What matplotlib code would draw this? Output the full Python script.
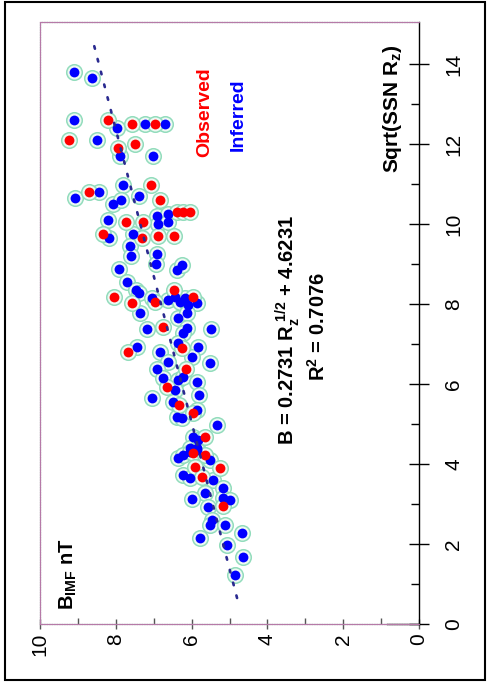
import matplotlib
matplotlib.use("Agg")
import matplotlib.pyplot as plt
import numpy as np
from matplotlib.patches import Rectangle
from matplotlib.lines import Line2D

plt.rcParams["font.family"] = ["Liberation Sans", "DejaVu Sans"]
plt.rcParams["mathtext.default"] = "regular"

# Observed monthly values: sqrt(sunspot number) and IMF field strength (nT)
obs_sqrt = [12.1, 12.6, 12.5, 12.5, 11.9, 12.0,
            10.8, 10.98, 10.6, 10.05, 10.05, 10.3, 10.3, 10.3,
            9.75, 9.65, 9.7, 9.7, 8.18, 8.03, 8.05, 8.35, 8.18,
            7.43, 6.8, 6.9, 6.38, 5.93, 5.48, 5.28, 4.68,
            4.28, 4.23, 3.93, 3.9, 3.68, 2.95]
obs_B = [9.23, 8.2, 7.57, 6.97, 7.94, 7.49,
         8.7, 7.07, 6.83, 7.73, 7.28, 6.39, 6.23, 6.04,
         8.34, 7.31, 6.89, 6.46, 8.05, 7.57, 6.97, 6.46, 5.96,
         6.75, 7.68, 6.25, 6.15, 6.65, 6.33, 5.96, 5.65,
         5.96, 5.65, 5.91, 5.25, 5.73, 5.17]

# Inferred values
inf_sqrt = [13.8, 13.65, 12.6, 12.1, 12.4, 12.5, 12.5, 11.7, 11.7,
            10.65, 10.8, 10.98, 10.7, 10.5, 10.6, 10.1, 10.2, 10.0, 10.25, 10.05,
            9.65, 9.75, 9.45, 9.2, 9.25, 9.0, 8.88, 8.85, 8.98,
            8.55, 8.35, 8.28, 8.15, 8.1, 8.18, 8.05, 8.15, 7.97, 8.03,
            7.78, 7.65, 7.78, 7.38, 7.4, 7.28, 7.38,
            6.93, 6.8, 7.03, 6.93, 6.68, 6.53, 6.55, 6.38,
            6.15, 6.1, 6.18, 6.05, 5.85, 5.73, 5.65, 5.55,
            5.18, 5.15, 5.35, 4.98, 4.68, 4.6, 4.4, 4.4,
            4.15, 4.23, 4.3, 4.35, 4.1, 3.73, 3.65, 3.6, 3.4,
            3.28, 3.13, 3.15, 3.1, 2.93, 2.6, 2.48, 2.48, 2.15,
            2.28, 1.98, 1.68, 1.23]
inf_B = [9.1, 8.63, 9.1, 8.5, 7.97, 7.23, 6.7, 7.89, 7.02,
         9.08, 8.44, 7.81, 7.4, 8.07, 7.86, 8.2, 6.91, 6.89, 6.62, 6.62,
         8.18, 7.55, 7.63, 7.6, 6.91, 6.94, 7.92, 6.39, 6.25,
         7.7, 7.47, 7.39, 7.04, 6.62, 6.44, 6.3, 6.17, 6.1, 5.86,
         7.36, 6.36, 6.12, 7.18, 6.12, 6.23, 5.49,
         7.44, 6.83, 6.36, 5.83, 5.99, 5.51, 6.62, 6.91,
         6.75, 6.36, 6.23, 5.86, 6.44, 5.8, 7.04, 6.49,
         6.39, 6.25, 5.86, 5.33, 5.96, 5.83, 6.04, 5.86,
         6.36, 6.23, 6.04, 5.86, 5.51, 6.23, 6.04, 5.44, 5.17,
         5.65, 5.99, 5.17, 4.99, 5.57, 5.46, 5.51, 5.12, 5.78,
         4.67, 5.07, 4.64, 4.85]

# Least-squares fit B = slope * sqrt(Rz) + intercept
fit_slope = 0.2731
fit_intercept = 4.6231
fit_r2 = 0.7076
fit_range = [0.65, 14.5]

x_ticks = [0, 2, 4, 6, 8, 10, 12, 14]
b_ticks = [0, 2, 4, 6, 8, 10]

W, H = 487, 692
fig = plt.figure(figsize=(W / 100, H / 100), dpi=100)
fig.patch.set_facecolor("white")

# Page is laid out rotated: B runs right-to-left along the bottom,
# sqrt(Rz) runs bottom-to-top along the right side.
L, R, T, Bt = 40, 419, 22, 624
ax = fig.add_axes([L / W, 1 - Bt / H, (R - L) / W, (Bt - T) / H])
ax.set_xlim(10, 0)
ax.set_ylim(0, (Bt - T) / 40.0)

# frame: fine dotted lines
for side in ["left", "top", "bottom"]:
    ax.spines[side].set_linestyle((0, (1, 1)))
    ax.spines[side].set_color("#b67aa8")
    ax.spines[side].set_linewidth(0.9)
for x0, x1, y0, y1 in [(0, 0, 0, 1), (0, 1, 1, 1), (0, 1, 0, 0)]:
    ax.add_line(Line2D([x0, x1], [y0, y1], transform=ax.transAxes,
                       color="#7cc09a", lw=0.9, ls=(1, (1, 1)), clip_on=False))
ax.spines["right"].set_color("black")
ax.spines["right"].set_linewidth(1.0)
ax.add_line(Line2D([0.85, 0], [0, 0], color="black", lw=1.0, clip_on=False))

ax.yaxis.tick_right()
ax.set_yticks(x_ticks)
ax.set_yticks([1, 3, 5, 7, 9, 11, 13], minor=True)
ax.set_yticklabels([str(v) for v in x_ticks], rotation=90, va="center",
                   ha="left", fontsize=15)
ax.tick_params(axis="y", which="major", direction="inout", length=14,
               width=1, pad=11, colors="black")
ax.tick_params(axis="y", which="minor", direction="in", length=6, width=1)

ax.set_xticks(b_ticks)
ax.set_xticks([1, 3, 5, 7, 9], minor=True)
ax.set_xticklabels([str(v) for v in b_ticks], rotation=90, ha="center",
                   va="top", fontsize=15)
ax.tick_params(axis="x", which="major", direction="inout", length=7,
               width=1, pad=3, color="#555555")
ax.tick_params(axis="x", which="minor", direction="in", length=4, width=1,
               color="#555555")

# regression line
xs = np.linspace(fit_range[0], fit_range[1], 50)
ax.plot(fit_slope * xs + fit_intercept, xs, color="#2a2a90", lw=1.9,
        ls=(0, (1, 4)), zorder=4, dash_capstyle="round")

# halos, then cores
all_B = list(inf_B) + list(obs_B)
all_S = list(inf_sqrt) + list(obs_sqrt)
ax.scatter(all_B, all_S, s=125, facecolor="#eef9f3", edgecolor="#92dcbc",
           linewidth=1.1, zorder=2)
ax.scatter(inf_B, inf_sqrt, s=50, color="#0000ff", linewidth=0, zorder=3)
ax.scatter(obs_B, obs_sqrt, s=50, color="#ff0000", linewidth=0, zorder=3)


def fx(px):
    return px / W


def fy(py):
    return 1 - py / H


fig.text(fx(393), fy(109), r"Sqrt(SSN R$_z$)", rotation=90, ha="center",
         va="center", fontsize=15, fontweight="bold")
fig.text(fx(68), fy(574), r"B$_{IMF}$ nT", rotation=90, ha="center",
         va="center", fontsize=14.5, fontweight="bold")
fig.text(fx(205), fy(112), "Observed", rotation=90, ha="center",
         va="center", fontsize=14, fontweight="bold", color="#ff0000")
fig.text(fx(238), fy(115), "Inferred", rotation=90, ha="center",
         va="center", fontsize=14, fontweight="bold", color="#0000ff")
fig.text(fx(288), fy(330),
         r"B = %.4f R$_z^{\ 1/2}$ + %.4f" % (fit_slope, fit_intercept),
         rotation=90, ha="center", va="center", fontsize=14.5,
         fontweight="bold")
fig.text(fx(318), fy(327), r"R$^2$ = %.4f" % fit_r2, rotation=90,
         ha="center", va="center", fontsize=14.5, fontweight="bold")

# page border
fig.add_artist(Rectangle((5 / W, 1 - 680 / H), 480 / W, 678 / H,
                         transform=fig.transFigure, fill=False,
                         edgecolor="black", lw=1.5))

fig.savefig("out.png", dpi=100, facecolor="white")
